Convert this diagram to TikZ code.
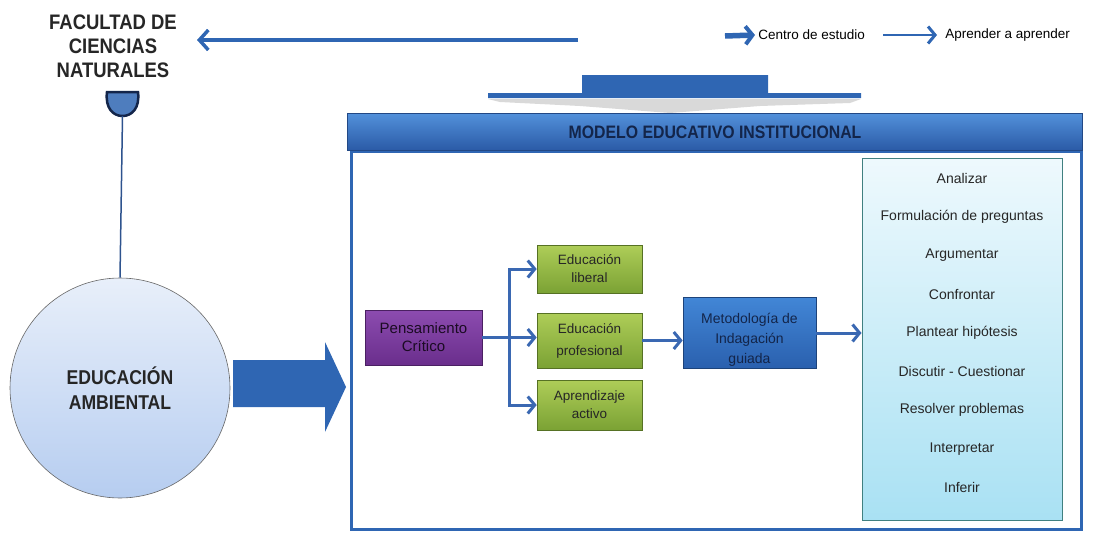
\documentclass[tikz,border=0pt]{standalone}
\usepackage{fontspec}
\setmainfont{Liberation Sans}
\newfontfamily\headfont[FakeStretch=0.88]{Liberation Sans}
\usetikzlibrary{calc,arrows.meta}

\definecolor{mblue}{HTML}{2F66B3}
\definecolor{lblue}{HTML}{3A68B2}
\definecolor{navy}{HTML}{13254A}
\definecolor{barTop}{HTML}{5290DA}
\definecolor{barBot}{HTML}{2A5AA6}
\definecolor{purTop}{HTML}{8C4CB0}
\definecolor{purBot}{HTML}{6A2E8C}
\definecolor{grnTop}{HTML}{AECD58}
\definecolor{grnBot}{HTML}{7BA234}
\definecolor{metTop}{HTML}{4286D6}
\definecolor{metBot}{HTML}{2A60AE}
\definecolor{ambTop}{HTML}{E8EFFA}
\definecolor{ambBot}{HTML}{B6CDF0}
\definecolor{skTop}{HTML}{EEF9FD}
\definecolor{skBot}{HTML}{A9E1F3}

\begin{document}
\begin{tikzpicture}[x=1pt, y=-1pt, thick,
  box/.style={align=center, inner sep=2pt, line width=0.6pt, font=\fontsize{14}{20}\selectfont},
  link/.style={draw=lblue, line width=3pt, -{Straight Barb[length=7pt,width=17pt,line width=3pt]}},
  item/.style={font=\fontsize{14}{16}\selectfont, text=black!85}]
  \useasboundingbox (0,0) rectangle (1093,533);

  \node[font=\headfont\bfseries\fontsize{21}{24}\selectfont, text=black!85, align=center] (fac) at (113,46) {FACULTAD DE\\CIENCIAS\\NATURALES};
  \coordinate (topend) at (578,40);
  \coordinate (toptip) at (197,40);
  \draw[mblue, line width=3.5pt, -{Straight Barb[length=9pt,width=20pt,line width=3.5pt]}] (topend) -- (toptip);

  \node[anchor=west, inner sep=0pt, font=\fontsize{13.5}{16}\selectfont] (centro) at (758,35) {Centro de estudio};
  \node[anchor=west, inner sep=0pt, font=\fontsize{13.5}{16}\selectfont] (aprender) at (945,35) {Aprender a aprender};
  \draw[mblue, line width=5.5pt, -{Straight Barb[length=7pt,width=18pt,line width=4pt]}] ($(centro.west)+(-33,1)$) -- ($(centro.west)+(-3,0)$);
  \draw[mblue, line width=2.5pt, -{Straight Barb[length=7pt,width=17pt,line width=3pt]}] ($(aprender.west)+(-62,0)$) -- ($(aprender.west)+(-8,0)$);

  \fill[gray!30] (488,99) -- (861,99) -- (850,103) -- (760,106) -- (670,113) -- (580,106) -- (500,102) -- cycle;
  \fill[mblue] (488,93) -- (582,93) -- (582,75) -- (768,75) -- (768,93) -- (861,93) -- (861,98) -- (488,98) -- cycle;

  \filldraw[fill=mblue!85, draw=navy, line width=2.5pt] (107,92) -- (138,92) .. controls (140,108) and (132,116) .. (122.5,116) .. controls (113,116) and (105,108) .. (107,92) -- cycle;
  \coordinate (cupbot) at (122.5,116);

  \node[circle, minimum size=220pt, draw=gray!80!black, line width=0.6pt, top color=ambTop, bottom color=ambBot, align=center,
        font=\headfont\bfseries\fontsize{20}{25}\selectfont, text=black!85] (amb) at (120,388) {EDUCACIÓN\\AMBIENTAL};
  \draw[lblue!80!black, line width=1.5pt] (cupbot) -- (amb.north);

  \fill[mblue] (233,360) -- (325,360) -- (325,342) -- (346,387) -- (325,432) -- (325,407) -- (233,407) -- cycle;

  \draw[mblue, line width=3pt] (351,151) rectangle (1081,529);
  \node[minimum width=735pt, minimum height=37pt, top color=barTop, bottom color=barBot, draw=barBot!80!black, line width=0.8pt,
        font=\headfont\bfseries\fontsize{18}{20}\selectfont, text=navy] (titulo) at (715,132) {MODELO EDUCATIVO INSTITUCIONAL};

  \node[box, minimum width=117pt, minimum height=55pt, top color=purTop, bottom color=purBot, draw=purBot!70!black,
        text=black!75!purBot, font=\fontsize{15}{18}\selectfont] (pens) at (423.5,337.5) {Pensamiento\\Crítico};
  \node[box, minimum width=105pt, minimum height=48pt, top color=grnTop, bottom color=grnBot, draw=grnBot!70!black,
        text=black!85, font=\fontsize{13.5}{18}\selectfont] (lib) at (589.5,269) {Educación\\liberal};
  \node[box, minimum width=105pt, minimum height=55pt, top color=grnTop, bottom color=grnBot, draw=grnBot!70!black,
        text=black!85, font=\fontsize{13.5}{22}\selectfont] (prof) at (589.5,340.5) {Educación\\profesional};
  \node[box, minimum width=105pt, minimum height=50pt, top color=grnTop, bottom color=grnBot, draw=grnBot!70!black,
        text=black!85, font=\fontsize{13.5}{18}\selectfont] (act) at (589.5,405) {Aprendizaje\\activo};
  \node[box, minimum width=133pt, minimum height=70pt, top color=metTop, bottom color=metBot, draw=metBot!70!black,
        text=navy] (meto) at (749.5,333) {\rule{0pt}{24pt}Metodología de\\Indagación\\guiada};
  \node[minimum width=200pt, minimum height=362pt, top color=skTop, bottom color=skBot, draw=teal!50!gray, line width=1pt] (skills) at (962,339) {};

  \foreach \t [count=\i] in {Analizar, Formulación de preguntas, Argumentar, Confrontar, Plantear hipótesis,
                             Discutir - Cuestionar, Resolver problemas, Interpretar, Inferir}
    \node[item] (h\i) at (962,{178+38.7*(\i-1)}) {\t};

  \coordinate (fork) at ($(pens.east)!0.5!(prof.west)$);
  \draw[link] (pens.east) -- (pens.east -| prof.west);
  \draw[link] (fork) |- (lib.west);
  \draw[link] (fork) |- (act.west);
  \draw[link] (prof.east) -- (prof.east -| meto.west);
  \draw[link] (meto.east) -- (meto.east -| skills.west);
\end{tikzpicture}
\end{document}
